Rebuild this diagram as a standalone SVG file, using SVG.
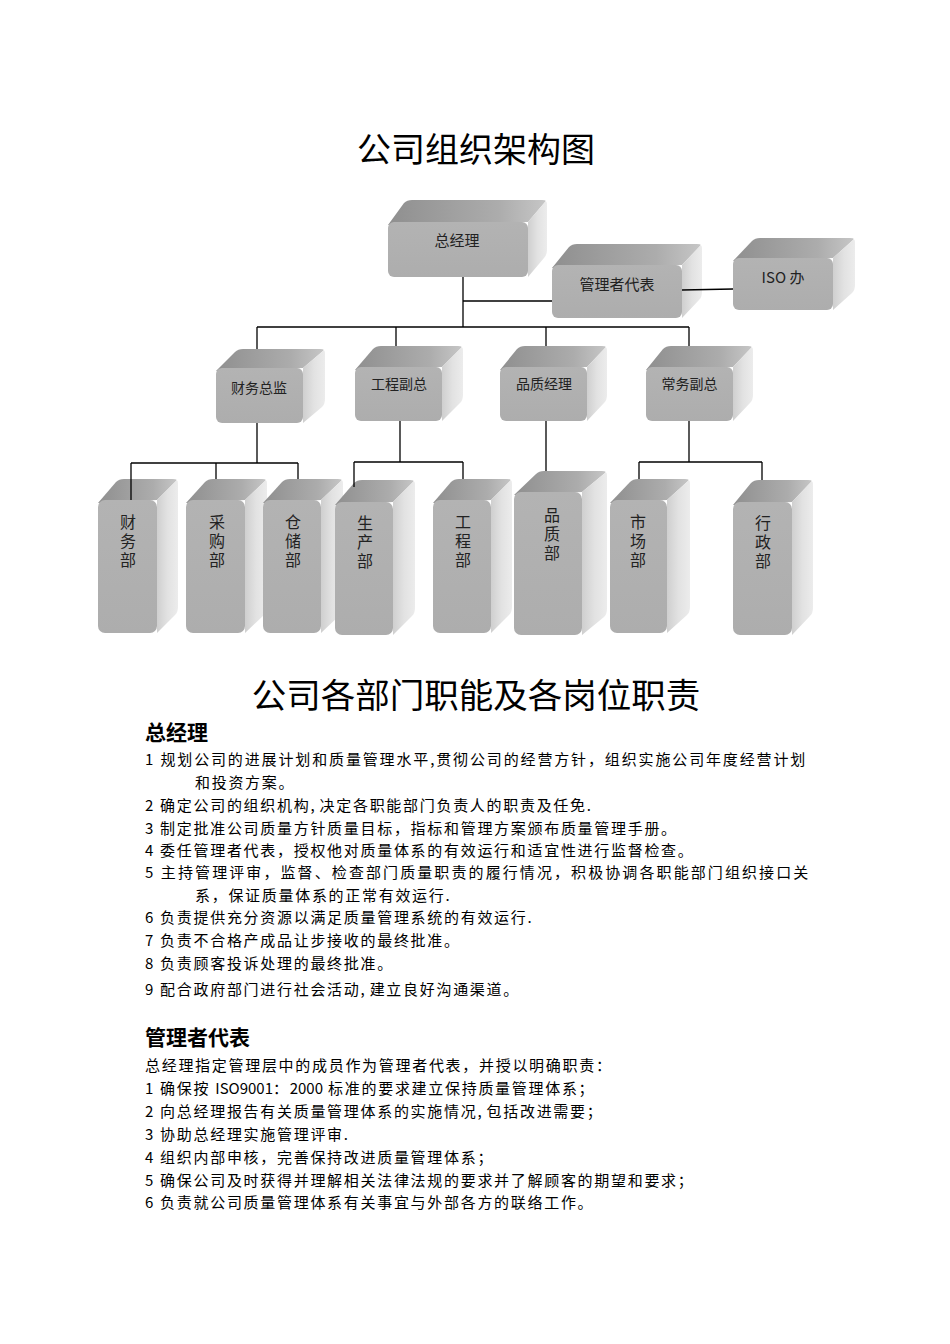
<svg xmlns="http://www.w3.org/2000/svg" width="950" height="1344" viewBox="0 0 950 1344">
<defs>
<linearGradient id="gTop" x1="0" y1="0" x2="1" y2="0">
<stop offset="0" stop-color="#8f8f8f"/><stop offset="0.7" stop-color="#acacac"/><stop offset="1" stop-color="#c6c6c6"/>
</linearGradient>
<linearGradient id="gSide" x1="0" y1="0" x2="1" y2="0">
<stop offset="0" stop-color="#cfcfcf"/><stop offset="0.5" stop-color="#e2e2e2"/><stop offset="1" stop-color="#ececec"/>
</linearGradient>
<linearGradient id="gFront" x1="0" y1="0" x2="0" y2="1">
<stop offset="0" stop-color="#b3b3b3"/><stop offset="1" stop-color="#adadad"/>
</linearGradient>
</defs>
<style>
.top{fill:url(#gTop)}
.side{fill:url(#gSide)}
.front{fill:url(#gFront)}
.lbl{font-family:"Noto Sans CJK SC",sans-serif;fill:#222;text-anchor:middle}
.l15{font-size:15px}
.l14{font-size:14px}
.vt{font-family:"Noto Sans CJK SC",sans-serif;fill:#222;font-size:16px;writing-mode:vertical-rl;text-orientation:upright;letter-spacing:3px}
.conn path{fill:none;stroke:#000;stroke-width:1.3}
.title{font-family:"Noto Sans CJK SC",sans-serif;font-size:34px;fill:#000;text-anchor:middle}
.head{font-family:"Noto Sans CJK SC",sans-serif;font-size:21px;font-weight:bold;fill:#000}
.body{font-family:"Noto Sans CJK SC",sans-serif;font-size:15px;letter-spacing:1.7px;fill:#000}
.nl{letter-spacing:0}
.cm{letter-spacing:5px}
</style>
<rect width="950" height="1344" fill="#fff"/>

<text class="title" x="476" y="162">公司组织架构图</text>

<g id="n-zjl" transform="translate(388,222)">
<path class="top" d="M0,3 L16,-19 Q19,-22 24,-22 H154 Q159,-22 157,-20 L140,0 Z"/>
<path class="side" d="M140,0 L157,-20 Q159,-22 159,-17 V28 Q159,33 156,36 L140,55 Z"/>
<rect class="front" width="140" height="55" rx="6"/>
<text class="lbl l15" x="69" y="24">总经理</text>
</g>
<g id="n-gldb" transform="translate(552,265)">
<path class="top" d="M0,3 L17,-18 Q20,-21 25,-21 H145 Q150,-21 148,-19 L130,0 Z"/>
<path class="side" d="M130,0 L148,-19 Q150,-21 150,-16 V27 Q150,32 147,35 L130,53 Z"/>
<rect class="front" width="130" height="53" rx="6"/>
<text class="lbl l15" x="65" y="24.5">管理者代表</text>
</g>
<g id="n-iso" transform="translate(733,258)">
<path class="top" d="M0,3 L19,-17 Q22,-20 27,-20 H117 Q122,-20 120,-18 L100,0 Z"/>
<path class="side" d="M100,0 L120,-18 Q122,-20 122,-15 V27 Q122,32 119,35 L100,52 Z"/>
<rect class="front" width="100" height="52" rx="6"/>
<text class="lbl l15" x="50" y="25">ISO 办</text>
</g>
<g id="n-cwzj" transform="translate(216,368)">
<path class="top" d="M0,3 L19,-16 Q22,-19 27,-19 H104 Q109,-19 107,-17 L87,0 Z"/>
<path class="side" d="M87,0 L107,-17 Q109,-19 109,-14 V31 Q109,36 106,39 L87,55 Z"/>
<rect class="front" width="87" height="55" rx="6"/>
<text class="lbl l14" x="43" y="25">财务总监</text>
</g>
<g id="n-gcfz" transform="translate(355,367)">
<path class="top" d="M0,3 L18,-18 Q21,-21 26,-21 H103 Q108,-21 106,-19 L87,0 Z"/>
<path class="side" d="M87,0 L106,-19 Q108,-21 108,-16 V28 Q108,33 105,36 L87,54 Z"/>
<rect class="front" width="87" height="54" rx="6"/>
<text class="lbl l14" x="44" y="22">工程副总</text>
</g>
<g id="n-pzjl" transform="translate(500,367)">
<path class="top" d="M0,3 L17,-18 Q20,-21 25,-21 H102 Q107,-21 105,-19 L87,0 Z"/>
<path class="side" d="M87,0 L105,-19 Q107,-21 107,-16 V28 Q107,33 104,36 L87,54 Z"/>
<rect class="front" width="87" height="54" rx="6"/>
<text class="lbl l14" x="44" y="22">品质经理</text>
</g>
<g id="n-cwfz" transform="translate(646,367)">
<path class="top" d="M0,3 L17,-18 Q20,-21 25,-21 H102 Q107,-21 105,-19 L87,0 Z"/>
<path class="side" d="M87,0 L105,-19 Q107,-21 107,-16 V28 Q107,33 104,36 L87,54 Z"/>
<rect class="front" width="87" height="54" rx="6"/>
<text class="lbl l14" x="43.5" y="22">常务副总</text>
</g>

<g id="n-cwb" transform="translate(98,500)">
<path class="top" d="M0,3 L18,-18 Q21,-21 26,-21 H75 Q80,-21 78,-19 L59,0 Z"/>
<path class="side" d="M59,0 L78,-19 Q80,-21 80,-16 V107 Q80,112 77,115 L59,133 Z"/>
<rect class="front" width="59" height="133" rx="7"/>
<text class="vt" x="30" y="14">财务部</text>
</g>
<g id="n-cgb" transform="translate(186,500)">
<path class="top" d="M0,3 L19,-18 Q22,-21 27,-21 H76 Q81,-21 79,-19 L59,0 Z"/>
<path class="side" d="M59,0 L79,-19 Q81,-21 81,-16 V107 Q81,112 78,115 L59,133 Z"/>
<rect class="front" width="59" height="133" rx="7"/>
<text class="vt" x="31" y="14">采购部</text>
</g>
<g id="n-ccb" transform="translate(263,500)">
<path class="top" d="M0,3 L19,-18 Q22,-21 27,-21 H75 Q80,-21 78,-19 L58,0 Z"/>
<path class="side" d="M58,0 L78,-19 Q80,-21 80,-16 V107 Q80,112 77,115 L58,133 Z"/>
<rect class="front" width="58" height="133" rx="7"/>
<text class="vt" x="30" y="14">仓储部</text>
</g>
<g id="n-scbu" transform="translate(335,502)">
<path class="top" d="M0,3 L19,-19 Q22,-22 27,-22 H75 Q80,-22 78,-20 L58,0 Z"/>
<path class="side" d="M58,0 L78,-20 Q80,-22 80,-17 V106 Q80,111 77,114 L58,133 Z"/>
<rect class="front" width="58" height="133" rx="7"/>
<text class="vt" x="30" y="13">生产部</text>
</g>
<g id="n-gcb" transform="translate(433,500)">
<path class="top" d="M0,3 L18,-18 Q21,-21 26,-21 H74 Q79,-21 77,-19 L58,0 Z"/>
<path class="side" d="M58,0 L77,-19 Q79,-21 79,-16 V107 Q79,112 76,115 L58,133 Z"/>
<rect class="front" width="58" height="133" rx="7"/>
<text class="vt" x="30" y="14">工程部</text>
</g>
<g id="n-pzb" transform="translate(514,492)">
<path class="top" d="M0,3 L22,-18 Q25,-21 30,-21 H88 Q93,-21 91,-19 L68,0 Z"/>
<path class="side" d="M68,0 L91,-19 Q93,-21 93,-16 V117 Q93,122 90,125 L68,143 Z"/>
<rect class="front" width="68" height="143" rx="7"/>
<text class="vt" x="38" y="15">品质部</text>
</g>
<g id="n-scb" transform="translate(610,500)">
<path class="top" d="M0,3 L20,-18 Q23,-21 28,-21 H75 Q80,-21 78,-19 L57,0 Z"/>
<path class="side" d="M57,0 L78,-19 Q80,-21 80,-16 V107 Q80,112 77,115 L57,133 Z"/>
<rect class="front" width="57" height="133" rx="7"/>
<text class="vt" x="28" y="14">市场部</text>
</g>
<g id="n-xzb" transform="translate(733,502)">
<path class="top" d="M0,3 L18,-19 Q21,-22 26,-22 H75 Q80,-22 78,-20 L59,0 Z"/>
<path class="side" d="M59,0 L78,-20 Q80,-22 80,-17 V106 Q80,111 77,114 L59,133 Z"/>
<rect class="front" width="59" height="133" rx="7"/>
<text class="vt" x="30" y="13">行政部</text>
</g>

<g id="connectors" class="conn">
<path d="M463,277 V327"/>
<path d="M463,301 H552"/>
<path d="M682,290 L733,289"/>
<path d="M257,327 H689"/>
<path d="M257,327 V349"/>
<path d="M396,327 V346"/>
<path d="M546,327 V346"/>
<path d="M689,327 V346"/>
<path d="M257,423 V463"/>
<path d="M131,463 H298"/>
<path d="M131,463 V500"/>
<path d="M216,463 V479"/>
<path d="M298,463 V479"/>
<path d="M400,421 V462"/>
<path d="M354,462 H463"/>
<path d="M354,462 V487"/>
<path d="M463,462 V479"/>
<path d="M546,421 V471"/>
<path d="M689,421 V462"/>
<path d="M639,462 H762"/>
<path d="M639,462 V479"/>
<path d="M762,462 V480"/>
</g>

<text class="title" x="476" y="708" style="font-size:34.5px">公司各部门职能及各岗位职责</text>

<g id="sec-zjl">
<text class="head" x="145" y="740">总经理</text>
<text class="body" x="145" y="765" textLength="662" lengthAdjust="spacing">1 规划公司的进展计划和质量管理水平,贯彻公司的经营方针，组织实施公司年度经营计划</text>
<text class="body" x="195" y="788">和投资方案。</text>
<text class="body" x="145" y="811">2 确定公司的组织机构<tspan class="cm">,</tspan>决定各职能部门负责人的职责及任免.</text>
<text class="body" x="145" y="834">3 制定批准公司质量方针质量目标，指标和管理方案颁布质量管理手册。</text>
<text class="body" x="145" y="856">4 委任管理者代表，授权他对质量体系的有效运行和适宜性进行监督检查。</text>
<text class="body" x="145" y="878" textLength="665" lengthAdjust="spacing">5 主持管理评审，监督、检查部门质量职责的履行情况，积极协调各职能部门组织接口关</text>
<text class="body" x="195" y="901">系，保证质量体系的正常有效运行.</text>
<text class="body" x="145" y="923">6 负责提供充分资源以满足质量管理系统的有效运行.</text>
<text class="body" x="145" y="946">7 负责不合格产成品让步接收的最终批准。</text>
<text class="body" x="145" y="969">8 负责顾客投诉处理的最终批准。</text>
<text class="body" x="145" y="995">9 配合政府部门进行社会活动<tspan class="cm">,</tspan>建立良好沟通渠道。</text>
</g>

<g id="sec-gldb">
<text class="head" x="145" y="1045">管理者代表</text>
<text class="body" x="145" y="1070.5">总经理指定管理层中的成员作为管理者代表，并授以明确职责：</text>
<text class="body" x="145" y="1093.5">1 确保按 <tspan class="nl">ISO9001</tspan>：<tspan class="nl">2000</tspan> 标准的要求建立保持质量管理体系；</text>
<text class="body" x="145" y="1116.5">2 向总经理报告有关质量管理体系的实施情况<tspan class="cm">,</tspan>包括改进需要；</text>
<text class="body" x="145" y="1139.5">3 协助总经理实施管理评审.</text>
<text class="body" x="145" y="1162.5">4 组织内部申核，完善保持改进质量管理体系；</text>
<text class="body" x="145" y="1185.5">5 确保公司及时获得并理解相关法律法规的要求并了解顾客的期望和要求；</text>
<text class="body" x="145" y="1207.5">6 负责就公司质量管理体系有关事宜与外部各方的联络工作。</text>
</g>
</svg>
